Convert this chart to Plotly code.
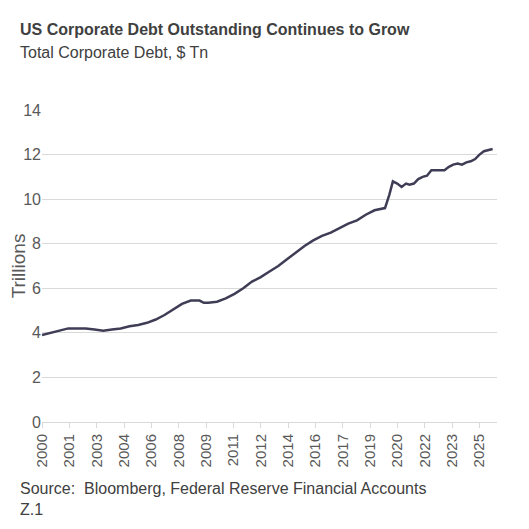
import plotly.graph_objects as go

years = [2000,2000.5,2001,2001.5,2002,2002.5,2003,2003.5,2004,2004.5,2005,2005.5,2006,2006.5,2007,2007.5,2008,2008.5,2009,2009.25,2009.5,2010,2010.5,2011,2011.5,2012,2012.5,2013,2013.5,2014,2014.5,2015,2015.5,2016,2016.5,2017,2017.5,2018,2018.5,2019,2019.25,2019.6,2019.85,2020.05,2020.3,2020.55,2020.8,2021,2021.25,2021.5,2021.75,2022,2022.25,2022.5,2022.75,2023,2023.25,2023.5,2023.75,2024,2024.25,2024.5,2024.75,2025,2025.25,2025.5,2025.75]
debt = [3.9,4.0,4.1,4.2,4.2,4.2,4.15,4.1,4.15,4.2,4.3,4.35,4.45,4.6,4.8,5.05,5.3,5.45,5.45,5.35,5.35,5.4,5.55,5.75,6.0,6.3,6.5,6.75,7.0,7.3,7.6,7.9,8.15,8.35,8.5,8.7,8.9,9.05,9.3,9.5,9.55,9.6,10.2,10.8,10.7,10.55,10.7,10.65,10.7,10.9,11.0,11.05,11.3,11.3,11.3,11.3,11.45,11.55,11.6,11.55,11.65,11.7,11.8,12.0,12.15,12.2,12.25]
tick_labels = ["2000","2001","2003","2004","2006","2008","2009","2011","2012","2014","2016","2017","2019","2020","2022","2023","2025"]
tick_pos = [2000 + k * 25 / 16 for k in range(len(tick_labels))]

fig = go.Figure(go.Scatter(x=years, y=debt, mode="lines", line=dict(color="#3F3D56", width=2.5)))
fig.update_layout(
    width=529, height=529, paper_bgcolor="white", plot_bgcolor="white",
    margin=dict(l=34, r=40, t=102, b=115, autoexpand=False),
    font=dict(family="Liberation Sans, Arial", color="#595959", size=16),
    showlegend=False,
    annotations=[
        dict(text="<b>US Corporate Debt Outstanding Continues to Grow</b>", x=-0.053, y=1.225, xref="paper", yref="paper",
             xanchor="left", yanchor="bottom", showarrow=False, font=dict(size=16, color="#404040")),
        dict(text="Total Corporate Debt, $ Tn", x=-0.053, y=1.15, xref="paper", yref="paper",
             xanchor="left", yanchor="bottom", showarrow=False, font=dict(size=16, color="#404040")),
        dict(text="Source:  Bloomberg, Federal Reserve Financial Accounts<br>Z.1", x=-0.053, y=-0.18, xref="paper", yref="paper",
             xanchor="left", yanchor="top", align="left", showarrow=False, font=dict(size=16, color="#404040")),
    ],
)
fig.update_yaxes(range=[0, 14], dtick=2, showgrid=True, gridcolor="#D9D9D9", zeroline=False, automargin=False,
                 title=dict(text="Trillions", standoff=4), ticks="", tickfont=dict(size=16))
fig.update_xaxes(range=[2000, 2026], tickvals=tick_pos, ticktext=tick_labels, tickangle=-90, automargin=False,
                 showgrid=False, showline=True, linecolor="#D9D9D9", ticks="outside", tickcolor="#D9D9D9",
                 ticklen=5, tickfont=dict(size=15))
fig.write_html("out.html")
